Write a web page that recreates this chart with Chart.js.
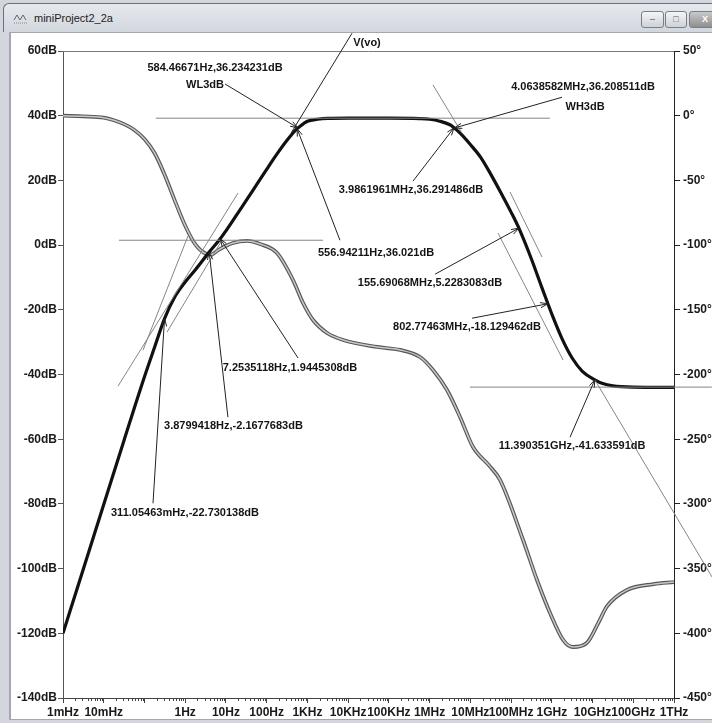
<!DOCTYPE html>
<html>
<head>
<meta charset="utf-8">
<title>miniProject2_2a</title>
<script src="https://cdn.jsdelivr.net/npm/chart.js@4.4.1/dist/chart.umd.min.js"></script>
<style>
  html, body { margin: 0; padding: 0; background: #fff; }
  #win { position: relative; width: 712px; height: 723px; overflow: hidden; background: #d3d7dd; font-family: "Liberation Sans", Arial, sans-serif; }
  #titlebar { position: absolute; left: 3px; top: 3px; width: 720px; height: 28px; background: linear-gradient(#e6e9ee, #d2d7de); border-top: 1px solid #6b7079; border-left: 1px solid #6b7079; border-radius: 6px 0 0 0; }
  #title { position: absolute; left: 30px; top: 8px; font-size: 11px; color: #1c1c1c; }
  #icon { position: absolute; left: 9px; top: 7px; }
  .btn { position: absolute; top: 7px; height: 15px; border: 1px solid #7a7f87; border-radius: 3px; background: linear-gradient(#f4f5f7, #cdd2d8); font-size: 9px; color: #555; text-align: center; line-height: 15px; }
  #content { position: absolute; left: 9px; top: 32px; width: 710px; height: 686px; background: #fff; border-left: 2px solid #a3a8b0; border-top: 1px solid #a3a8b0; border-bottom: 1px solid #a3a8b0; }
  canvas { position: absolute; left: 0; top: 0; }
</style>
</head>
<body>
<div id="win">
  <div id="titlebar">
    <svg id="icon" width="16" height="14"><polyline points="1,9 4,4 7,9 10,4 13,9" fill="none" stroke="#666" stroke-width="1"/><line x1="1" y1="12" x2="15" y2="12" stroke="#888" stroke-dasharray="1,1"/></svg>
    <div id="title">miniProject2_2a</div>
    <div class="btn" style="left:637px;width:21px;">&#8211;</div>
    <div class="btn" style="left:661px;width:20px;">&#9633;</div>
    <div class="btn" style="left:685px;width:30px;background:linear-gradient(#c9c9c9,#8f8f8f);color:#fff;font-weight:bold;">X</div>
  </div>
  <div id="content"></div>
  <canvas id="bodeChart" width="712" height="723"></canvas>
</div>
<script>
// magnitude trace V(vo)
const magFreqHz = [1e-3, 3.16e-3, 1e-2, 3.16e-2, 0.1, 0.178, 0.311, 0.562, 1, 1.78, 3.88, 7.25, 10, 17.8, 31.6, 56.2, 100, 178, 316, 556.9, 584.5, 1000, 1780, 3160, 1e4, 1e5, 5.62e5, 1e6, 1.78e6, 3.16e6, 3.99e6, 4.06e6, 5.62e6, 1e7, 1.78e7, 3.16e7, 5.62e7, 1e8, 1.557e8, 3.16e8, 5.62e8, 8.03e8, 1e9, 1.78e9, 3.16e9, 5.62e9, 1.139e10, 1.78e10, 3.16e10, 1e11, 1e12];
const magDb = [-120, -100.1, -80.2, -60.3, -40.7, -31.5, -22.73, -15.9, -11.4, -7.6, -2.17, 1.94, 4.4, 9.1, 13.8, 18.6, 23.4, 28.1, 32.4, 36.02, 36.23, 38.3, 38.9, 39.15, 39.23, 39.23, 39.1, 38.9, 38.3, 37.2, 36.29, 36.21, 34.6, 31.1, 27.2, 21.95, 16.2, 10.2, 5.23, -4.3, -12.9, -18.13, -21.3, -28.9, -34.9, -39.0, -41.63, -42.8, -43.5, -43.9, -44.0];

// phase trace
const phaseFreqHz = [1e-3, 3.16e-3, 1e-2, 0.0178, 0.0316, 0.0562, 0.1, 0.178, 0.316, 0.562, 1, 1.778, 3.16, 4.47, 6.31, 14.9, 33, 68.7, 179.5, 443.6, 780, 1374, 3034, 7500, 5.12e4, 1.88e5, 5.82e5, 1.213e6, 2.68e6, 5.58e6, 1.164e7, 3.02e7, 5.36e7, 1.97e8, 4.35e8, 9.06e8, 1.89e9, 3.33e9, 7.21e9, 1.51e10, 2.23e10, 7.03e10, 3.16e11, 1e12];
const phaseDeg = [0, -0.5, -1.5, -3.5, -6.5, -11, -18, -29, -46, -66, -85, -99.5, -106.5, -107.2, -104, -98.4, -96.8, -99.2, -106.1, -127, -144.7, -157.9, -167.9, -173.3, -178.7, -181, -186.5, -196.5, -212, -232.8, -256, -271, -281.5, -327.9, -359, -384.3, -405, -410.6, -407.5, -389.7, -379.4, -366.5, -362, -360.4];

// axes
const xTickValues = [1e-3, 1e-2, 1e-1, 1, 10, 100, 1e3, 1e4, 1e5, 1e6, 1e7, 1e8, 1e9, 1e10, 1e11, 1e12];
const xTickLabels = ['1mHz', '10mHz', '', '1Hz', '10Hz', '100Hz', '1KHz', '10KHz', '100KHz', '1MHz', '10MHz', '100MHz', '1GHz', '10GHz', '100GHz', '1THz'];

// cursor notes: [freq Hz, dB]
const notes = [
  { text: 'V(vo)', at: [2.91e4, 62.4], from: [1.245e4, 65.5], to: [396, 34.6], arrow: false },
  { text: '584.46671Hz,36.234231dB', at: [5.4, 54.7] },
  { text: 'WL3dB', at: [3.06, 49.5], from: [9.5, 49.8], to: [584.47, 36.23], arrow: true },
  { text: '4.0638582MHz,36.208511dB', at: [5.85e9, 48.8] },
  { text: 'WH3dB', at: [6.55e9, 42.7], from: [1.78e9, 45.7], to: [4.0638582e6, 36.21], arrow: true },
  { text: '3.9861961MHz,36.291486dB', at: [3.5e5, 17.0], from: [3.92e5, 19.8], to: [3.9861961e6, 36.29], arrow: true },
  { text: '556.94211Hz,36.021dB', at: [4.84e4, -2.5], from: [6.3e3, 1.5], to: [556.94, 36.02], arrow: true },
  { text: '7.2535118Hz,1.9445308dB', at: [374, -38.0], from: [589, -34.9], to: [7.2535, 1.94], arrow: true },
  { text: '3.8799418Hz,-2.1677683dB', at: [15.3, -56.0], from: [11.2, -53.2], to: [3.88, -2.17], arrow: true },
  { text: '311.05463mHz,-22.730138dB', at: [0.989, -82.8], from: [0.162, -79.8], to: [0.311, -22.73], arrow: true },
  { text: '155.69068MHz,5.2283083dB', at: [1.02e6, -11.75], from: [1.36e6, -9.0], to: [1.5569e8, 5.23], arrow: true },
  { text: '802.77463MHz,-18.129462dB', at: [8.3e6, -25.3], from: [1.1e7, -22.6], to: [8.0277e8, -18.13], arrow: true },
  { text: '11.390351GHz,-41.633591dB', at: [3.14e9, -62.1], from: [2.8e9, -59.4], to: [1.139e10, -41.63], arrow: true }
];

// helper lines drawn by hand on the plot: [freq Hz, dB] pairs
const guideLines = [
  [[0.19, 39.23], [9.0e8, 39.23]],
  [[0.0237, 1.5], [2420, 1.5]],
  [[9.8e6, -43.9], [8.5e12, -43.9]],
  [[0.0224, -43.6], [19.8, 16.1]],
  [[0.092, -32.5], [1.17, 2.8]],
  [[0.357, -26.9], [8.0, 1.5]],
  [[1.21e6, 49.5], [6.25e6, 34.6]],
  [[9.44e7, 16.4], [5.75e8, -3.7]],
  [[4.79e7, 3.7], [1.89e9, -35.5]],
  [[1.139e10, -41.63], [8.6e12, -102.6]]
];

function arrowHead(ctx, x0, y0, x1, y1) {
  const a = Math.atan2(y1 - y0, x1 - x0), len = 8, spread = 0.33;
  ctx.beginPath();
  ctx.moveTo(x1 - len * Math.cos(a - spread), y1 - len * Math.sin(a - spread));
  ctx.lineTo(x1, y1);
  ctx.lineTo(x1 - len * Math.cos(a + spread), y1 - len * Math.sin(a + spread));
  ctx.stroke();
}

const ltspiceDecor = {
  id: 'ltspiceDecor',
  afterDraw(chart) {
    const { ctx, chartArea, scales: { x, y } } = chart;
    const px = f => x.getPixelForValue(f);
    const py = d => y.getPixelForValue(d);
    ctx.save();

    // top frame line
    ctx.strokeStyle = '#7a7a7a';
    ctx.lineWidth = 1;
    ctx.beginPath();
    ctx.moveTo(chartArea.left, chartArea.top + 0.5);
    ctx.lineTo(chartArea.right, chartArea.top + 0.5);
    ctx.stroke();

    // minor ticks on the frequency axis
    ctx.strokeStyle = '#444';
    ctx.beginPath();
    for (let d = 1e-3; d < 1e12; d *= 10) {
      for (let m = 2; m <= 9; m++) {
        const xx = Math.round(px(d * m)) + 0.5;
        ctx.moveTo(xx, chartArea.bottom);
        ctx.lineTo(xx, chartArea.bottom + 3);
      }
    }
    ctx.stroke();

    // guide lines
    ctx.strokeStyle = '#858585';
    guideLines.forEach(([a, b]) => {
      ctx.beginPath();
      ctx.moveTo(px(a[0]), py(a[1]));
      ctx.lineTo(px(b[0]), py(b[1]));
      ctx.stroke();
    });

    // notes
    ctx.strokeStyle = '#222';
    ctx.fillStyle = '#141414';
    ctx.font = 'bold 11px "Liberation Sans", Arial, sans-serif';
    ctx.textAlign = 'center';
    ctx.textBaseline = 'middle';
    notes.forEach(n => {
      if (n.from) {
        const x0 = px(n.from[0]), y0 = py(n.from[1]);
        const x1 = px(n.to[0]), y1 = py(n.to[1]);
        ctx.beginPath();
        ctx.moveTo(x0, y0);
        ctx.lineTo(x1, y1);
        ctx.stroke();
        if (n.arrow) arrowHead(ctx, x0, y0, x1, y1);
      }
      ctx.fillText(n.text, px(n.at[0]), py(n.at[1]));
    });
    ctx.restore();
  }
};

const tickFont = { family: '"Liberation Sans", Arial, sans-serif', size: 12, weight: 'bold' };

const magPoints = magFreqHz.map((f, i) => ({ x: f, y: magDb[i] }));
const phasePoints = phaseFreqHz.map((f, i) => ({ x: f, y: phaseDeg[i] }));

const ctx = document.getElementById('bodeChart').getContext('2d');
new Chart(ctx, {
  type: 'line',
  data: {
    datasets: [
      {
        label: 'V(vo)',
        data: magPoints,
        yAxisID: 'y',
        borderColor: '#111',
        borderWidth: 3.2,
        pointRadius: 0,
        cubicInterpolationMode: 'monotone'
      },
      {
        label: 'phase',
        data: phasePoints,
        yAxisID: 'y2',
        borderColor: '#c8c8c8',
        borderWidth: 1.5,
        pointRadius: 0,
        cubicInterpolationMode: 'monotone'
      },
      {
        label: 'phase edge',
        data: phasePoints,
        yAxisID: 'y2',
        borderColor: '#575757',
        borderWidth: 3.8,
        pointRadius: 0,
        cubicInterpolationMode: 'monotone'
      }
    ]
  },
  options: {
    responsive: false,
    animation: false,
    devicePixelRatio: 1,
    layout: { padding: { top: 51, left: 0, right: 0, bottom: 0 } },
    plugins: { legend: { display: false }, tooltip: { enabled: false } },
    scales: {
      x: {
        type: 'logarithmic',
        min: 1e-3,
        max: 1e12,
        afterBuildTicks: s => { s.ticks = xTickValues.map(v => ({ value: v })); },
        afterFit: s => { s.height = 25; },
        ticks: {
          autoSkip: false,
          maxRotation: 0,
          padding: 2,
          color: '#1a1a1a',
          font: tickFont,
          callback: (v, i) => xTickLabels[i]
        },
        grid: { drawOnChartArea: false, tickLength: 5, color: '#444' },
        border: { color: '#444' }
      },
      y: {
        position: 'left',
        min: -140,
        max: 60,
        afterFit: s => { s.width = 63; },
        ticks: { stepSize: 20, padding: 1, color: '#1a1a1a', font: tickFont, callback: v => v + 'dB' },
        grid: { drawOnChartArea: false, tickLength: 5, color: '#555' },
        border: { color: '#555' }
      },
      y2: {
        position: 'right',
        min: -450,
        max: 50,
        afterFit: s => { s.width = 38; },
        ticks: { stepSize: 50, padding: 3, color: '#1a1a1a', font: tickFont, callback: v => v + '°' },
        grid: { drawOnChartArea: false, tickLength: 6, color: '#222' },
        border: { color: '#222' }
      }
    }
  },
  plugins: [ltspiceDecor]
});
</script>
</body>
</html>
